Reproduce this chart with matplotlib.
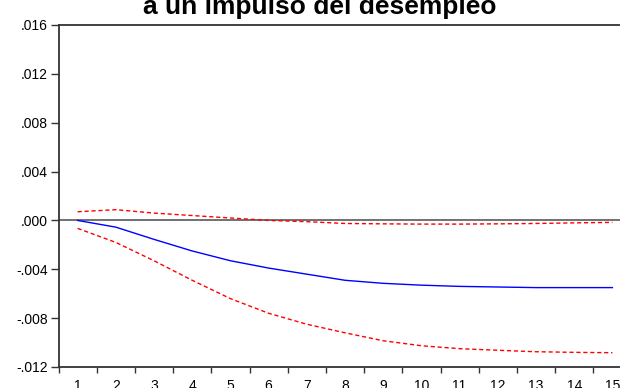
import matplotlib
matplotlib.use('Agg')
import matplotlib.pyplot as plt
import numpy as np

periods = list(range(1, 16))
respuesta = [0.0, -0.00055, -0.00155, -0.0025, -0.0033, -0.0039, -0.0044,
             -0.0049, -0.00515, -0.0053, -0.0054, -0.00545, -0.0055, -0.0055, -0.0055]
banda_sup = [0.00071, 0.00088, 0.0006, 0.0004, 0.0002, 0.0, -0.0001,
             -0.00025, -0.00028, -0.0003, -0.0003, -0.00028, -0.00025, -0.0002, -0.00016]
banda_inf = [-0.00065, -0.0018, -0.0033, -0.0049, -0.0064, -0.0076, -0.0085,
             -0.0092, -0.00985, -0.01026, -0.0105, -0.01063, -0.01075, -0.0108, -0.01083]
yticks = [0.016, 0.012, 0.008, 0.004, 0.0, -0.004, -0.008, -0.012]
ylabels = ['.016', '.012', '.008', '.004', '.000', '-.004', '-.008', '-.012']

plt.rcParams['font.family'] = ['Liberation Sans', 'DejaVu Sans']

fig = plt.figure(figsize=(6.2, 3.88), dpi=100)
ax = fig.add_axes([58.5/620, 21/388, 573/620, 342/388])

ax.axhline(0, color='0.4', lw=1.3, zorder=1)
ax.plot(periods, respuesta, color='#0000ff', lw=1.0, zorder=3)
ax.plot(periods, banda_sup, color='#ff0000', lw=1.0, dashes=(3, 2), zorder=2)
ax.plot(periods, banda_inf, color='#ff0000', lw=1.0, dashes=(3, 2), zorder=2)

ax.set_xlim(0.5, 15.5)
ax.set_ylim(-0.012, 0.016)
ax.set_yticks(yticks)
ax.set_yticklabels(ylabels)

ax.set_xticks(np.arange(0.5, 15.5, 1.0))
ax.set_xticklabels([])
ax.set_xticks(periods, minor=True)
ax.set_xticklabels([str(p) for p in periods], minor=True)
ax.tick_params(axis='x', which='major', direction='out', length=4, width=1, color='0.2')
ax.tick_params(axis='x', which='minor', length=0, pad=9, labelsize=10)
ax.tick_params(axis='y', direction='out', length=6, width=1, color='0.2', pad=1.5, labelsize=10)

for s in ax.spines.values():
    s.set_color('0.2')
    s.set_linewidth(1.3)

fig.text(320/620, (388-14)/388, 'Respuesta del crecimiento\na un impulso del desempleo',
         ha='center', va='baseline', fontsize=19, fontweight='bold', linespacing=1.15)

fig.savefig('out.png', dpi=100)
